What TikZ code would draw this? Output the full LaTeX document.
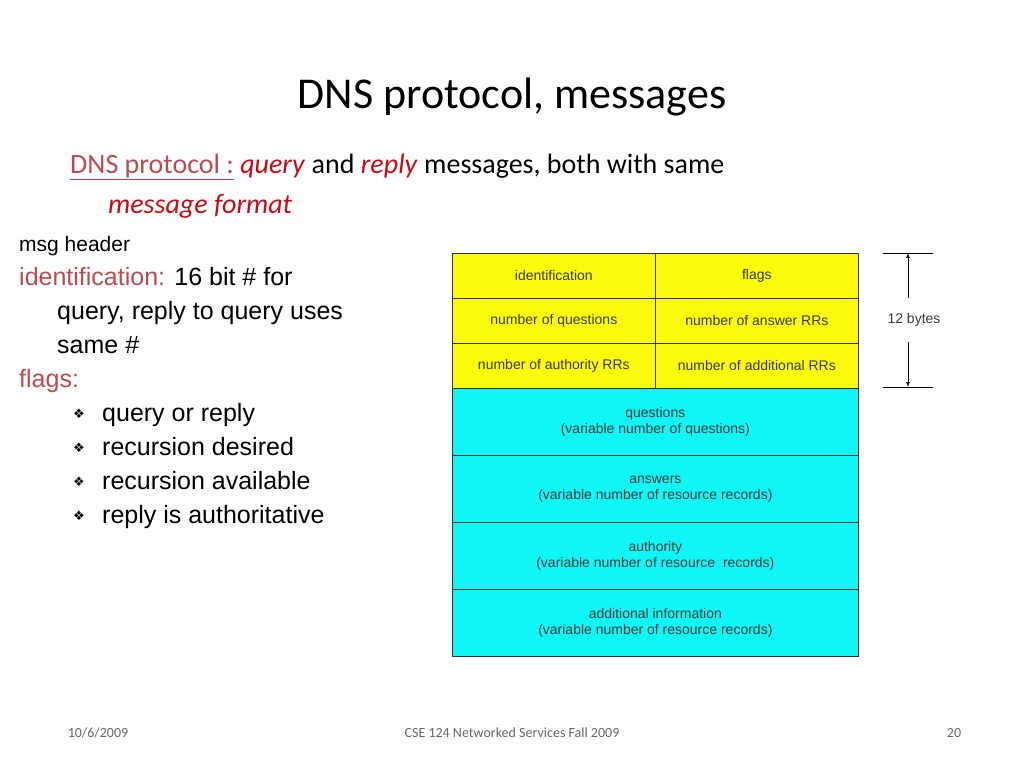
\documentclass[tikz,border=0pt]{standalone}
\usepackage{fontspec}
\setmainfont{Carlito}
\newfontfamily\arial{Liberation Sans}
\newfontfamily\djv{DejaVu Sans}
\definecolor{rose}{RGB}{185,75,85}
\definecolor{red2}{RGB}{200,10,20}
\definecolor{yel}{RGB}{250,250,10}
\definecolor{cya}{RGB}{16,246,246}
\definecolor{tgray}{RGB}{60,60,60}
\begin{document}
\begin{tikzpicture}[x=1pt,y=-1pt,
  cell/.style={draw=black!80,line width=0.7pt,minimum height=45pt,inner sep=0pt,anchor=north west,font=\arial\fontsize{14}{16}\selectfont,text=tgray},
  hcell/.style={cell,fill=yel,minimum width=203pt},
  bcell/.style={cell,fill=cya,minimum width=406pt,minimum height=67pt,align=center},
  body/.style={anchor=base west,font=\arial\fontsize{25}{30}\selectfont,inner sep=0pt},
  bul/.style={anchor=base west,font=\djv\fontsize{13}{15}\selectfont,inner sep=0pt},
  foot/.style={font=\fontsize{14}{16}\selectfont,text=black!60,inner sep=0pt}]
\useasboundingbox (0,0) rectangle (1024,768);
\node[font=\fontsize{44}{50}\selectfont,inner sep=0pt] (title) at (512,97) {DNS protocol, messages};
\node[anchor=base west,font=\fontsize{28}{32}\selectfont,inner sep=0pt] (sub1) at (70,173) {\textcolor{rose}{\underline{DNS protocol :}} \textcolor{red2}{\textit{query}} and \textcolor{red2}{\textit{reply}} messages, both with same};
\node[anchor=base west,font=\fontsize{28}{32}\selectfont,inner sep=0pt,text=red2] (sub2) at (108,213) {\textit{message format}};
\node[body,font=\arial\fontsize{21}{25}\selectfont] (mh) at (19,251) {msg header};
\node[body] (id) at (19,285) {\textcolor{rose}{identification:} 16 bit \# for};
\node[body] (id2) at (57,319) {query, reply to query uses};
\node[body] (id3) at (57,353) {same \#};
\node[body,text=rose] (fl) at (19,387) {flags:};
\foreach \t [count=\i] in {query or reply,recursion desired,recursion available,reply is authoritative}{
  \node[bul] (b\i) at (73,387+34*\i-3) {❖};
  \node[body] (t\i) at (102,387+34*\i) {\t};
}
% table
\node[hcell] (c11) at (452,253) {identification};
\node[hcell] (c12) at (655,253) {flags};
\node[hcell] (c21) at (452,298) {number of questions};
\node[hcell] (c22) at (655,298) {number of answer RRs};
\node[hcell] (c31) at (452,343) {number of authority RRs};
\node[hcell] (c32) at (655,343) {number of additional RRs};
\node[bcell] (q) at (452,388) {questions\\(variable number of questions)};
\node[bcell] (a) at (452,455) {answers\\(variable number of resource records)};
\node[bcell] (au) at (452,522) {authority\\(variable number of resource\ \ records)};
\node[bcell] (ad) at (452,589) {additional information\\(variable number of resource records)};
% 12 bytes
\coordinate (t1) at (883,253); \coordinate (t2) at (933,253);
\coordinate (u1) at (883,387); \coordinate (u2) at (933,387);
\draw[line width=0.7pt] (t1) -- (t2) (u1) -- (u2);
\node[font=\arial\fontsize{14}{16}\selectfont,text=tgray,inner sep=0pt] (lab) at (914,320) {12 bytes};
\coordinate (at) at (908,253); \coordinate (ab) at (908,387);
\coordinate (as) at (908,298); \coordinate (bs) at (908,342);
\draw[-latex,line width=0.7pt] (as) -- (at);
\draw[-latex,line width=0.7pt] (bs) -- (ab);
% footer
\node[foot] (f1) at (98,733) {10/6/2009};
\node[foot] (f2) at (512,733) {CSE 124 Networked Services Fall 2009};
\node[foot] (f3) at (954,733) {20};
\end{tikzpicture}
\end{document}
